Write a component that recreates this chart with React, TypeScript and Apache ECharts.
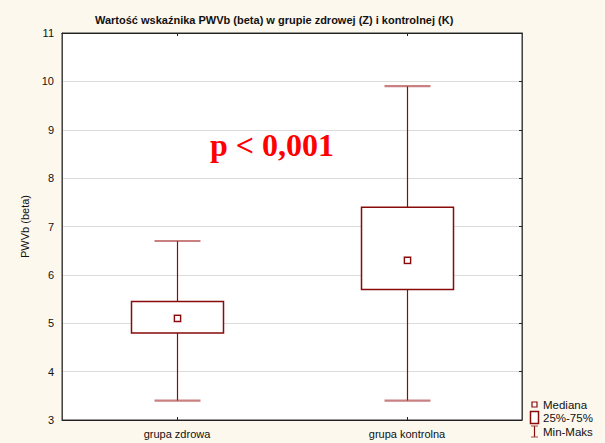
import React, { useEffect, useRef } from "react";
import * as echarts from "echarts";

const categories = ["grupa zdrowa", "grupa kontrolna"];
const minValues = [3.4, 3.4];
const q1Values = [4.8, 5.7];
const medianValues = [5.1, 6.3];
const q3Values = [5.45, 7.4];
const maxValues = [6.7, 9.9];
const legendLabels = ["Mediana", "25%-75%", "Min-Maks"];

const DARK = "#880a0a";
const CAP = "rgba(170,60,60,0.65)";
const FONT = "'Liberation Sans', Arial, sans-serif";

export default function App() {
  const ref = useRef<HTMLDivElement>(null);
  useEffect(() => {
    if (!ref.current) return;
    const chart = echarts.init(ref.current, null, { renderer: "svg" });
    const data = categories.map((_, i) => [i, minValues[i], q1Values[i], medianValues[i], q3Values[i], maxValues[i]]);
    const renderItem = (params: any, api: any) => {
      const i = api.value(0);
      const pMin = api.coord([i, api.value(1)]);
      const pQ1 = api.coord([i, api.value(2)]);
      const pMed = api.coord([i, api.value(3)]);
      const pQ3 = api.coord([i, api.value(4)]);
      const pMax = api.coord([i, api.value(5)]);
      const band = api.size([1, 0])[0];
      const bw = band * 0.4;
      const cw = band * 0.2;
      const x = Math.round(pMed[0]) + 0.5;
      return {
        type: "group",
        children: [
          { type: "line", shape: { x1: x, y1: pMax[1], x2: x, y2: pQ3[1] }, style: { stroke: DARK, lineWidth: 1.2 } },
          { type: "line", shape: { x1: x, y1: pQ1[1], x2: x, y2: pMin[1] }, style: { stroke: DARK, lineWidth: 1.2 } },
          { type: "line", shape: { x1: x - cw / 2, y1: pMax[1], x2: x + cw / 2, y2: pMax[1] }, style: { stroke: CAP, lineWidth: 2.2 } },
          { type: "line", shape: { x1: x - cw / 2, y1: pMin[1], x2: x + cw / 2, y2: pMin[1] }, style: { stroke: CAP, lineWidth: 2.2 } },
          { type: "rect", shape: { x: x - bw / 2, y: pQ3[1], width: bw, height: pQ1[1] - pQ3[1] }, style: { fill: "#ffffff", stroke: DARK, lineWidth: 1.5 } },
          { type: "rect", shape: { x: x - 3, y: pMed[1] - 3, width: 6, height: 6 }, style: { fill: "#ffffff", stroke: "rgba(200,120,120,0.6)", lineWidth: 2.5 } },
          { type: "rect", shape: { x: x - 3, y: pMed[1] - 3, width: 6, height: 6 }, style: { fill: "#ffffff", stroke: DARK, lineWidth: 1.2 } },
        ],
      };
    };
    const lx = 531;
    chart.setOption({
      animation: false,
      backgroundColor: "#fdf8ee",
      title: {
        text: "Wartość wskaźnika PWVb (beta) w grupie zdrowej (Z) i kontrolnej (K)",
        left: 90,
        top: 9,
        textStyle: { fontSize: 11, fontWeight: "bold", color: "#111", fontFamily: FONT },
      },
      grid: { left: 62, right: 83, top: 33, bottom: 23, show: true, backgroundColor: "#ffffff", borderColor: "#333", borderWidth: 1 },
      xAxis: [
        {
          type: "category",
          data: categories,
          position: "bottom",
          axisLine: { show: true, lineStyle: { color: "#222", width: 1 } },
          axisTick: { show: true, alignWithLabel: true, inside: true, length: 3, lineStyle: { color: "#222" } },
          axisLabel: { color: "#111", fontSize: 11, fontFamily: FONT, margin: 8 },
          splitLine: { show: false },
        },
        {
          type: "category",
          data: categories,
          position: "top",
          axisLine: { show: true, lineStyle: { color: "#222", width: 1 } },
          axisTick: { show: true, alignWithLabel: true, inside: true, length: 3, lineStyle: { color: "#222" } },
          axisLabel: { show: false },
          splitLine: { show: false },
        },
      ],
      yAxis: [
        {
          type: "value",
          min: 3,
          max: 11,
          interval: 1,
          name: "PWVb (beta)",
          nameLocation: "middle",
          nameGap: 31,
          nameRotate: 90,
          nameTextStyle: { color: "#111", fontSize: 11, fontFamily: FONT },
          axisLine: { show: true, lineStyle: { color: "#444", width: 1 } },
          axisTick: { show: false },
          axisLabel: { color: "#111", fontSize: 11, fontFamily: FONT, margin: 8 },
          splitLine: { show: true, lineStyle: { color: "#dcdcdc", width: 1 } },
        },
        {
          type: "value",
          min: 3,
          max: 11,
          interval: 1,
          position: "right",
          axisLine: { show: true, lineStyle: { color: "#444", width: 1 } },
          axisTick: { show: true, inside: true, length: 3, lineStyle: { color: "#222" } },
          axisLabel: { show: false },
          splitLine: { show: false },
        },
      ],
      series: [
        {
          type: "custom",
          xAxisIndex: 0,
          yAxisIndex: 0,
          renderItem,
          data,
          z: 5,
        },
      ],
      graphic: [
        {
          type: "text",
          left: 210,
          top: 129,
          style: { text: "p < 0,001", fill: "#ff0000", font: "bold 32px 'Liberation Serif', 'Times New Roman', serif" },
        },
        { type: "rect", shape: { x: lx + 1, y: 402, width: 5, height: 5 }, style: { fill: "#fff", stroke: DARK, lineWidth: 1.2 } },
        { type: "text", x: 543, y: 405, style: { text: legendLabels[0], fill: "#111", font: "11.5px " + FONT, verticalAlign: "middle" } },
        { type: "rect", shape: { x: lx - 0.5, y: 411.5, width: 8, height: 12 }, style: { fill: "#fff", stroke: DARK, lineWidth: 1.5 } },
        { type: "text", x: 543, y: 418, style: { text: legendLabels[1], fill: "#111", font: "11.5px " + FONT, verticalAlign: "middle" } },
        { type: "line", shape: { x1: lx + 3.5, y1: 426, x2: lx + 3.5, y2: 437 }, style: { stroke: DARK, lineWidth: 1.2 } },
        { type: "line", shape: { x1: lx, y1: 426, x2: lx + 7, y2: 426 }, style: { stroke: CAP, lineWidth: 1.5 } },
        { type: "line", shape: { x1: lx, y1: 437, x2: lx + 7, y2: 437 }, style: { stroke: CAP, lineWidth: 1.5 } },
        { type: "text", x: 543, y: 432, style: { text: legendLabels[2], fill: "#111", font: "11.5px " + FONT, verticalAlign: "middle" } },
      ],
    });
    return () => chart.dispose();
  }, []);
  return <div ref={ref} style={{ position: "fixed", left: 0, top: 0, width: 605, height: 443 }} />;
}
